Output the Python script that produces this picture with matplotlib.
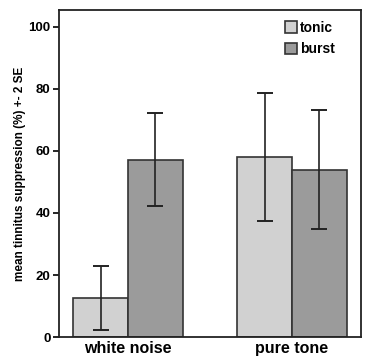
import numpy as np
import matplotlib
matplotlib.use('Agg')
import matplotlib.pyplot as plt

plt.rcParams['font.family'] = ['Liberation Sans', 'DejaVu Sans']
plt.rcParams['font.weight'] = 'bold'

groups = ['white noise', 'pure tone']
series = ['tonic', 'burst']
means = {'tonic': [12.6, 58.0], 'burst': [57.2, 54.0]}
err_low = {'tonic': [10.3, 20.5], 'burst': [14.8, 19.2]}
err_high = {'tonic': [10.2, 20.7], 'burst': [15.1, 19.2]}
colors = {'tonic': '#d1d1d1', 'burst': '#9b9b9b'}

fig = plt.figure(figsize=(3.78, 3.64), dpi=100)
ax = fig.add_axes([0.156, 0.074, 0.799, 0.899])

xs = np.arange(len(groups))
width = 0.333
for i, s in enumerate(series):
    pos = xs + (i - 0.5) * width
    ax.bar(pos, means[s], width, color=colors[s], edgecolor='#333333', linewidth=1.2, label=s)
    ax.errorbar(pos, means[s], yerr=[err_low[s], err_high[s]], fmt='none',
                ecolor='#222222', elinewidth=1.2, capsize=5.5, capthick=1.4)

ax.set_xlim(-0.42, 1.42)
ax.set_ylim(0, 105.5)
ax.set_yticks([0, 20, 40, 60, 80, 100])
ax.set_xticks(xs)
ax.set_xticklabels(groups, fontsize=11.5, fontweight='bold')
ax.tick_params(axis='x', length=0, pad=3)
ax.tick_params(axis='y', labelsize=9.5, length=4, width=1.2, direction='out', pad=2)
ax.set_ylabel('mean tinnitus suppression (%) +- 2 SE', fontsize=8.5, fontweight='bold', labelpad=2)
for sp in ax.spines.values():
    sp.set_linewidth(1.3)
    sp.set_color('#222222')

leg = ax.legend(loc='upper right', bbox_to_anchor=(0.955, 1.005), frameon=False, fontsize=10,
                handlelength=0.9, handleheight=0.9, handletextpad=0.2, labelspacing=0.55)
for t in leg.get_texts():
    t.set_fontweight('bold')

fig.savefig('out.png', dpi=100)
